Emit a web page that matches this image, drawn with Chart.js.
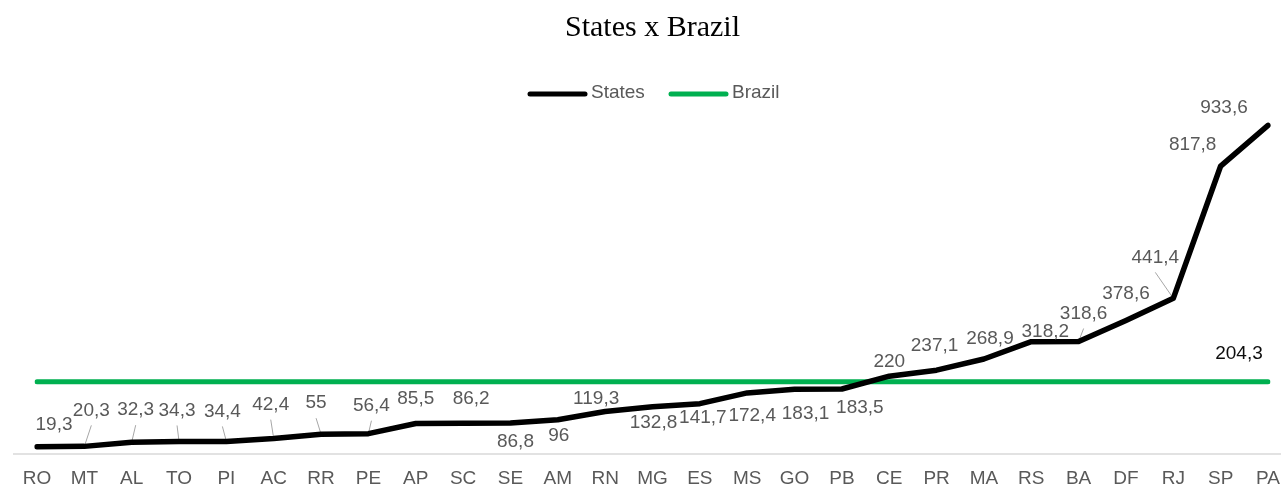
<!DOCTYPE html>
<html>
<head>
<meta charset="utf-8">
<title>States x Brazil</title>
<script src="https://cdn.jsdelivr.net/npm/chart.js@4/dist/chart.umd.min.js"></script>
<style>
  html, body { margin: 0; padding: 0; background: #ffffff; }
  #wrap { width: 1281px; height: 486px; position: relative; }
</style>
</head>
<body>
<div id="wrap"><canvas id="chart"></canvas></div>
<script>
// Categories (states) and values
const states = ['RO','MT','AL','TO','PI','AC','RR','PE','AP','SC','SE','AM','RN','MG','ES','MS','GO','PB','CE','PR','MA','RS','BA','DF','RJ','SP','PA'];
const stateValues = [19.3, 20.3, 32.3, 34.3, 34.4, 42.4, 55, 56.4, 85.5, 86.2, 86.8, 96, 119.3, 132.8, 141.7, 172.4, 183.1, 183.5, 220, 237.1, 268.9, 318.2, 318.6, 378.6, 441.4, 817.8, 933.6];
const brazilValue = 204.3;
const brazilValues = states.map(() => brazilValue);
const seriesNames = ['States', 'Brazil'];
const chartTitle = 'States x Brazil';

// Placement of each state's value label relative to its point: [dx, dy, leader line]
const labelPlacement = [
  [17, -22, 0], [7, -36, 1], [4, -32, 1], [-2, -31, 1], [-4, -30, 1], [-3, -34, 1],
  [-5, -31, 1], [3, -28, 1], [0, -25, 0], [8, -24, 0], [5, 19, 0], [1, 16, 0],
  [-9, -13, 0], [1, 16, 0], [3, 14, 0], [5, 23, 0], [11, 25, 0], [18, 19, 0],
  [0, -14, 0], [-2, -24, 0], [6, -20, 0], [14, -10, 0], [5, -28, 1], [0, -27, 0],
  [-18, -41, 1], [-28, -21, 0], [-44, -18, 0]
];
const brazilLabelPlacement = [-29, -28];

const SANS = "'Liberation Sans', Arial, sans-serif";
const GREEN = '#00B050';
const LABEL_GREY = '#595959';

const fmt = v => String(v).replace('.', ',');

const decorations = {
  id: 'decorations',
  beforeDatasetsDraw(chart) {
    const { ctx, chartArea } = chart;
    ctx.save();
    // category axis line
    ctx.strokeStyle = '#d9d9d9';
    ctx.lineWidth = 1.5;
    ctx.beginPath();
    ctx.moveTo(13, chartArea.bottom + 0.5);
    ctx.lineTo(chart.width, chartArea.bottom + 0.5);
    ctx.stroke();
    // leader lines from labels to their points
    const meta = chart.getDatasetMeta(0);
    ctx.strokeStyle = '#a6a6a6';
    ctx.lineWidth = 1;
    meta.data.forEach((pt, i) => {
      const [dx, dy, leader] = labelPlacement[i];
      if (!leader) return;
      ctx.beginPath();
      ctx.moveTo(pt.x + dx, pt.y + dy + 15);
      ctx.lineTo(pt.x, pt.y);
      ctx.stroke();
    });
    ctx.restore();
  },
  afterDatasetsDraw(chart) {
    const { ctx } = chart;
    ctx.save();
    ctx.font = '19px ' + SANS;
    ctx.textAlign = 'center';
    ctx.textBaseline = 'middle';
    ctx.fillStyle = LABEL_GREY;
    const meta = chart.getDatasetMeta(0);
    meta.data.forEach((pt, i) => {
      const [dx, dy] = labelPlacement[i];
      ctx.fillText(fmt(stateValues[i]), pt.x + dx, pt.y + dy);
    });
    const bmeta = chart.getDatasetMeta(1);
    const last = bmeta.data[bmeta.data.length - 1];
    ctx.fillStyle = '#0d0d0d';
    ctx.fillText(fmt(brazilValue), last.x + brazilLabelPlacement[0], last.y + brazilLabelPlacement[1]);

    // legend
    const legendY = 94;
    const items = [
      { name: seriesNames[0], color: '#000000', x: 528 },
      { name: seriesNames[1], color: GREEN, x: 669 }
    ];
    ctx.textAlign = 'left';
    ctx.lineCap = 'round';
    ctx.lineWidth = 5;
    items.forEach(it => {
      ctx.strokeStyle = it.color;
      ctx.beginPath();
      ctx.moveTo(it.x + 2, legendY);
      ctx.lineTo(it.x + 57, legendY);
      ctx.stroke();
      ctx.fillStyle = LABEL_GREY;
      ctx.fillText(it.name, it.x + 63, legendY - 1);
    });
    ctx.restore();
  }
};

new Chart(document.getElementById('chart'), {
  type: 'line',
  data: {
    labels: states,
    datasets: [
      {
        label: seriesNames[0],
        data: stateValues,
        borderColor: '#000000',
        borderWidth: 5.5,
        borderCapStyle: 'round',
        borderJoinStyle: 'round',
        pointRadius: 0,
        tension: 0,
        order: 1
      },
      {
        label: seriesNames[1],
        data: brazilValues,
        borderColor: GREEN,
        borderWidth: 5,
        borderCapStyle: 'round',
        pointRadius: 0,
        tension: 0,
        order: 2
      }
    ]
  },
  options: {
    responsive: true,
    maintainAspectRatio: false,
    animation: false,
    layout: { padding: { left: 37, right: 13, top: 0, bottom: 0 } },
    plugins: {
      legend: { display: false },
      tooltip: { enabled: false },
      title: {
        display: true,
        text: chartTitle,
        color: '#000000',
        font: { family: "'Liberation Serif', 'Times New Roman', serif", size: 30, weight: 'normal', lineHeight: 1.2 },
        padding: { top: 10, bottom: 56 }
      }
    },
    scales: {
      x: {
        offset: false,
        grid: { display: false, drawTicks: false },
        border: { display: false },
        ticks: {
          color: LABEL_GREY,
          font: { family: SANS, size: 19 },
          padding: 13.5,
          maxRotation: 0,
          autoSkip: false
        },
        afterFit(scale) {
          // keep the plot edges fixed and the axis band compact
          scale.paddingLeft = 0;
          scale.paddingRight = 0;
          scale.height = 32.5;
        }
      },
      y: {
        display: false,
        min: 0,
        max: 1000
      }
    }
  },
  plugins: [decorations]
});
</script>
</body>
</html>
